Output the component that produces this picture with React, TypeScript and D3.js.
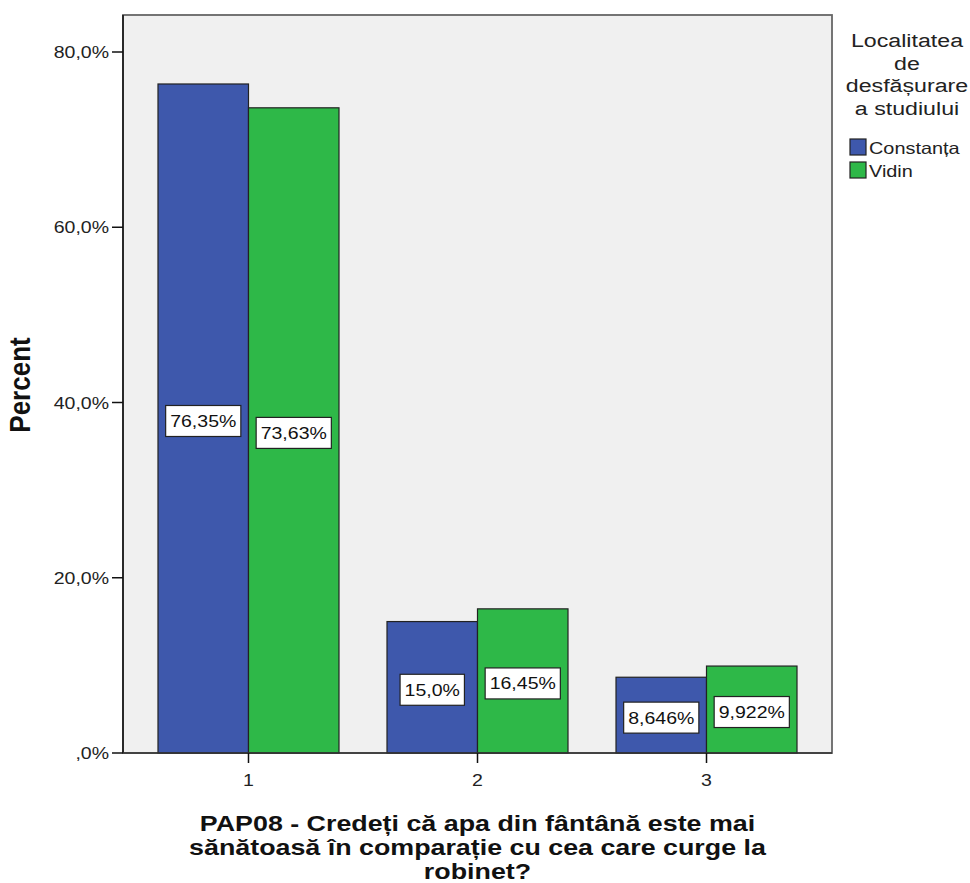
import React from "react";
import * as d3 from "d3";

const categories = ["1", "2", "3"];
const seriesNames = ["Constanța", "Vidin"];
const constantaValues = [76.35, 15.0, 8.646];
const vidinValues = [73.63, 16.45, 9.922];
const constantaLabels = ["76,35%", "15,0%", "8,646%"];
const vidinLabels = ["73,63%", "16,45%", "9,922%"];
const yTicks = [0, 20, 40, 60, 80];
const yTickLabels = [",0%", "20,0%", "40,0%", "60,0%", "80,0%"];
const legendTitle = ["Localitatea", "de", "desfășurare", "a studiului"];
const xTitle = [
  "PAP08 - Credeți că apa din fântână este mai",
  "sănătoasă în comparație cu cea care curge la",
  "robinet?",
];
const colors = ["#3E58AC", "#2EB848"];

const SX = 1.22;
const font = "Liberation Sans, Arial, sans-serif";

function charW(ch: string) {
  if (ch === ",") return 0.278;
  if (ch === "%") return 0.889;
  return 0.556;
}

function SText(props: {
  x: number; y: number; size: number; anchor?: "start" | "middle" | "end";
  bold?: boolean; fill?: string; children: string; sx?: number;
}) {
  const { x, y, size, anchor = "start", bold, fill = "#222", children, sx = SX } = props;
  return (
    <g transform={`translate(${x},${y}) scale(${sx},1)`}>
      <text x={0} y={0} textAnchor={anchor} fontSize={size} fontWeight={bold ? "bold" : "normal"} fill={fill} fontFamily={font}>
        {children}
      </text>
    </g>
  );
}

export default function App() {
  const W = 970, H = 883;
  const left = 123, right = 832, top = 15, bottom = 753;
  const x = d3.scalePoint<string>().domain(categories).range([left, right]).padding(0.548);
  const y = d3.scaleLinear().domain([0, 80]).range([bottom, 52]);
  const barW = 90.5;
  const labelSize = 16;
  const series = [
    { name: seriesNames[0], values: constantaValues, labels: constantaLabels, color: colors[0] },
    { name: seriesNames[1], values: vidinValues, labels: vidinLabels, color: colors[1] },
  ];
  return (
    <svg width={W} height={H} style={{ position: "absolute", left: 0, top: 0, background: "#fff" }} fontFamily={font}>
      <rect x={left} y={top} width={right - left} height={bottom - top} fill="#F0F0F0" stroke="#666" strokeWidth={1.8} />
      {series.map((s, si) =>
        categories.map((c, ci) => {
          const cx = x(c)!;
          const bx = si === 0 ? cx - barW : cx;
          const by = y(s.values[ci]);
          return (
            <rect key={`${si}-${ci}`} x={bx} y={by} width={barW} height={bottom - by} fill={s.color} stroke="#222" strokeWidth={1.2} />
          );
        })
      )}
      {series.map((s, si) =>
        categories.map((c, ci) => {
          const cx = x(c)!;
          const bx = si === 0 ? cx - barW : cx;
          const mid = (y(s.values[ci]) + bottom) / 2 + 2.5;
          const txt = s.labels[ci];
          const tw = txt.split("").reduce((a, ch) => a + charW(ch), 0) * labelSize * SX;
          const bw = tw + 9;
          return (
            <g key={`l${si}-${ci}`}>
              <rect x={bx + barW / 2 - bw / 2} y={mid - 15.5} width={bw} height={31} fill="#fff" stroke="#222" strokeWidth={1.2} />
              <SText x={bx + barW / 2} y={mid + 6} size={labelSize} anchor="middle" fill="#111">{txt}</SText>
            </g>
          );
        })
      )}
      <line x1={left} x2={left} y1={top} y2={bottom} stroke="#111" strokeWidth={1.5} />
      <line x1={left} x2={right} y1={bottom} y2={bottom} stroke="#333" strokeWidth={1.5} />
      {yTicks.map((t, i) => (
        <g key={t}>
          <line x1={left - 11} x2={left} y1={y(t)} y2={y(t)} stroke="#111" strokeWidth={1.5} />
          <SText x={left - 14} y={y(t) + 6} size={16} anchor="end">{yTickLabels[i]}</SText>
        </g>
      ))}
      {categories.map((c) => (
        <g key={c}>
          <line x1={x(c)!} x2={x(c)!} y1={bottom} y2={bottom + 10} stroke="#111" strokeWidth={1.5} />
          <SText x={x(c)!} y={bottom + 33} size={16} anchor="middle">{c}</SText>
        </g>
      ))}
      <g transform={`translate(30, ${(top + bottom) / 2 + 1}) rotate(-90) scale(1,1.12)`}>
        <text x={0} y={0} textAnchor="middle" fontSize={26} fontWeight="bold" fill="#111">Percent</text>
      </g>
      {xTitle.map((line, i) => (
        <SText key={i} x={(left + right) / 2} y={831 + i * 24} size={22} anchor="middle" bold fill="#111">{line}</SText>
      ))}
      {legendTitle.map((line, i) => (
        <SText key={i} x={907} y={47 + i * 22.5} size={19} anchor="middle">{line}</SText>
      ))}
      {series.map((s, i) => (
        <g key={s.name}>
          <rect x={850} y={139 + i * 23} width={16} height={16} fill={s.color} stroke="#222" strokeWidth={1.2} />
          <SText x={869} y={154 + i * 23} size={16.3}>{s.name}</SText>
        </g>
      ))}
    </svg>
  );
}
